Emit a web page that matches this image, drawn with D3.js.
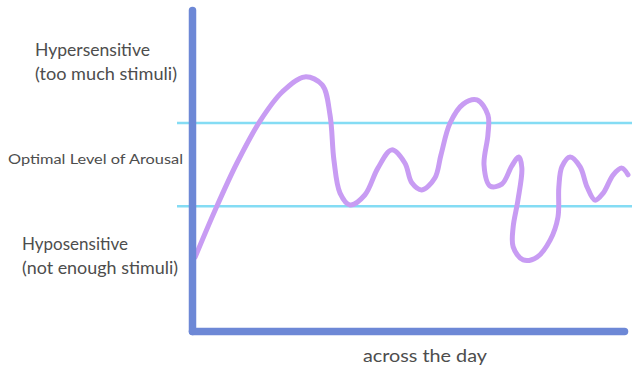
<!DOCTYPE html>
<html>
<head>
<meta charset="utf-8">
<script src="https://cdn.jsdelivr.net/npm/d3@7"></script>
<style>
  html, body { margin: 0; padding: 0; background: #fff; }
  svg { display: block; }
</style>
</head>
<body>
<script>
// ---- data (time across the day 0..100, arousal level 0..100) ----
const timeOfDay = [0.5, 5.1, 10.1, 15.4, 20.5, 25.7, 29.7, 31.5, 32.4, 33.8, 36.1, 39.5, 42.5, 45.7, 48.7, 50.3, 52.6, 55.6, 57.0, 59.1, 62.1, 65.3, 67.8, 67.8, 66.9, 68.3, 71.0, 73.3, 74.9, 75.6, 74.7, 73.6, 73.6, 75.9, 79.1, 82.1, 83.9, 84.1, 84.8, 86.7, 89.0, 90.6, 92.4, 94.3, 96.6, 98.6, 100.0];
const arousal   = [23.1, 37.8, 52.5, 65.6, 74.7, 79.4, 76.9, 67.5, 53.4, 43.1, 39.4, 42.5, 50.9, 56.6, 52.5, 46.3, 44.1, 47.8, 55.0, 65.0, 70.9, 72.2, 67.5, 61.3, 51.9, 45.3, 45.9, 51.6, 54.4, 50.9, 40.9, 32.5, 26.3, 22.2, 23.1, 28.4, 35.6, 45.0, 51.3, 54.4, 51.3, 45.0, 40.9, 43.1, 48.8, 50.9, 48.8];
const optimalBand = [39, 65];   // lower and upper bound of optimal arousal
const zoneLabels = [
  { lines: ["Hypersensitive", "(too much stimuli)"], level: 85 },
  { lines: ["Optimal Level of Arousal"], level: 52 },
  { lines: ["Hyposensitive", "(not enough stimuli)"], level: 22 }
];
const xAxisTitle = "across the day";

// ---- drawing ----
const W = 632, H = 368;
const svg = d3.select("body").append("svg").attr("width", W).attr("height", H);

const defs = svg.append("defs");
defs.append("filter").attr("id", "soft")
  .attr("filterUnits", "userSpaceOnUse")
  .attr("x", -W).attr("y", -H).attr("width", 3 * W).attr("height", 3 * H)
  .append("feGaussianBlur").attr("stdDeviation", 0.7);

const x = d3.scaleLinear().domain([0, 100]).range([193, 628]);
const y = d3.scaleLinear().domain([0, 100]).range([331, 11]);

const font = "Lato, 'Open Sans', sans-serif";
const textColor = "#4d4d4d";

// optimal band lines
svg.append("g").selectAll("line").data(optimalBand).join("line")
  .attr("x1", 177).attr("x2", W)
  .attr("y1", d => y(d)).attr("y2", d => y(d))
  .attr("stroke", "#84dcf4").attr("stroke-width", 2.4)
  .attr("filter", "url(#soft)");

// curve
const pts = timeOfDay.map((t, i) => [t, arousal[i]]);
const line = d3.line().x(d => x(d[0])).y(d => y(d[1])).curve(d3.curveCatmullRom.alpha(0.5));
svg.append("path").datum(pts)
  .attr("d", line)
  .attr("fill", "none")
  .attr("stroke", "#c89cf3")
  .attr("stroke-width", 5)
  .attr("stroke-linecap", "round")
  .attr("stroke-linejoin", "round")
  .attr("filter", "url(#soft)");

// axes (thick, hand-drawn look)
const axisColor = "#6d88d6";
const xAxisScale = x.copy().range([192, 624]);
const gx = svg.append("g").attr("transform", `translate(0,${y(0)})`)
  .call(d3.axisBottom(xAxisScale).tickValues([]).tickSizeOuter(0));
const gy = svg.append("g").attr("transform", `translate(192,0)`)
  .call(d3.axisLeft(y.copy().range([331, 10])).tickValues([]).tickSizeOuter(0));
[gx, gy].forEach(g => g.select(".domain")
  .attr("stroke", axisColor).attr("stroke-width", 7.5)
  .attr("stroke-linecap", "round")
  .attr("filter", "url(#soft)"));

// zone labels
const labelPos = [
  { x: 35, ys: [56, 80], sizes: [17, 17], lens: [115, 142] },
  { x: 8, ys: [164], sizes: [13.5], lens: [175] },
  { x: 22, ys: [250, 274], sizes: [17, 17], lens: [106, 156] }
];
zoneLabels.forEach((lab, i) => {
  const p = labelPos[i];
  lab.lines.forEach((txt, j) => {
    svg.append("text")
      .attr("x", p.x).attr("y", p.ys[j])
      .attr("font-family", font).attr("font-size", p.sizes[j])
      .attr("fill", textColor)
      .attr("textLength", p.lens[j]).attr("lengthAdjust", "spacingAndGlyphs")
      .text(txt);
  });
});

svg.append("text")
  .attr("x", 363).attr("y", 362)
  .attr("font-family", font).attr("font-size", 17)
  .attr("fill", textColor)
  .attr("textLength", 124).attr("lengthAdjust", "spacingAndGlyphs")
  .text(xAxisTitle);
</script>
</body>
</html>
